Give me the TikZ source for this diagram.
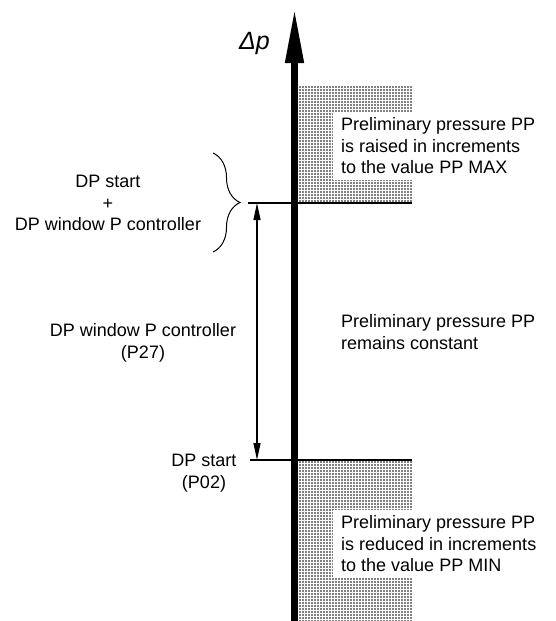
\documentclass[tikz,border=0pt]{standalone}
\usepackage{fontspec}
\setmainfont{Liberation Sans}
\usetikzlibrary{arrows.meta, decorations.pathreplacing, patterns.meta}
\tikzstyle{axis} = [line width=7.5pt, -{Triangle[length=56pt,width=17pt]}]
\tikzstyle{threshold} = [line width=2.2pt]
\tikzstyle{dotfield} = [pattern={Dots[radius=0.85pt,distance=3pt]}]
\tikzstyle{infobox} = [fill=white, align=left, anchor=west, inner xsep=8pt, inner ysep=6pt]
\tikzstyle{setpoint} = [align=center]
\tikzstyle{window} = [line width=1.3pt, {Triangle[length=17pt,width=7pt]}-{Triangle[length=17pt,width=7pt]}]
\tikzstyle{bracket} = [decorate, decoration={brace, amplitude=27pt}, line width=1pt]

\begin{document}
\begin{tikzpicture}[x=1pt, y=-1pt, font=\fontsize{18pt}{21.5pt}\selectfont]
	\useasboundingbox (0,0) rectangle (555,621);
	
		% dotted bands
		\path[dotfield] (298,86) rectangle (412,203);
		\path[dotfield] (298,460) rectangle (412,621);
		
		\node (raise) [infobox] at (333,146) {Preliminary pressure PP\\is raised in increments\\to the value PP MAX};
		\node (hold) [infobox, fill=none] at (333,332) {Preliminary pressure PP\\remains constant};
		\node (reduce) [infobox] at (333,544) {Preliminary pressure PP\\is reduced in increments\\to the value PP MIN};
		
		% thresholds
		\coordinate (upper-l) at (248,203);
		\coordinate (upper-r) at (412,203);
		\coordinate (lower-l) at (250,460);
		\coordinate (lower-r) at (412,460);
		\draw[threshold] (upper-l) -- (upper-r);
		\draw[threshold] (lower-l) -- (lower-r);
		
		% axis
		\coordinate (foot) at (294.5,621);
		\coordinate (tip) at (294.5,7);
		\draw[axis] (foot) -- (tip);
		\node (dp) [anchor=east, inner sep=0pt, font=\fontsize{25pt}{30pt}\selectfont\itshape] at (270,43) {Δp};
		
		% left side
		\node (sum) [setpoint] at (108,203) {DP start\\+\\DP window P controller};
		\node (width) [setpoint] at (143,343) {DP window P controller\\(P27)};
		\node (start) [setpoint] at (204,473) {DP start\\(P02)};
		
		\coordinate (brace-n) at (213,153);
		\coordinate (brace-s) at (213,252);
		\draw[bracket] (brace-n) -- (brace-s);
		
		\coordinate (win-top) at (257,203);
		\coordinate (win-bot) at (257,460);
		\draw[window] (win-top) -- (win-bot);
	\end{tikzpicture}
\end{document}
